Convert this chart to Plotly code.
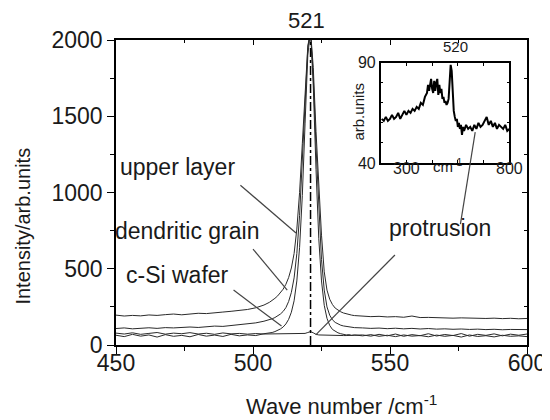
import plotly.graph_objects as go

# ---------------- data ----------------
wave = [450, 453, 456, 459, 462, 465, 468, 471, 474, 477, 480, 483, 486, 489, 492, 495, 498, 501, 504,
        506, 507, 508, 509, 510, 511, 512, 513, 514, 515, 516, 517, 518, 519, 520, 521,
        522, 523, 524, 525, 526, 527, 528, 529, 530, 531, 532, 533, 534, 535, 536, 537,
        540, 543, 546, 549, 552, 555, 558, 561, 564, 567, 570, 573, 576, 579, 582, 585, 588, 591, 594, 597, 600]

upper_layer = [196, 190, 194, 191, 197, 194, 199, 203, 198, 205, 208, 206, 213, 216, 221, 226, 233, 244, 262,
               280, 292, 306, 322, 342, 366, 398, 442, 505, 600, 760, 1000, 1320, 1680, 1960, 2060,
               1820, 1400, 1050, 720, 480, 360, 300, 265, 242, 228, 218, 210, 204, 199, 196, 193,
               190, 186, 188, 184, 186, 182, 190, 180, 181, 178, 179, 176, 178, 175, 177, 174, 176, 173, 175, 172, 174]

dendritic_grain = [108, 112, 106, 110, 113, 109, 114, 112, 116, 118, 115, 121, 124, 122, 128, 132, 137, 145, 156,
                   165, 172, 180, 190, 203, 220, 245, 285, 345, 440, 600, 850, 1200, 1620, 1950, 2060,
                   1760, 1300, 880, 560, 360, 250, 195, 165, 148, 137, 130, 125, 121, 118, 116, 114,
                   112, 109, 111, 107, 110, 106, 109, 105, 108, 104, 106, 103, 105, 102, 104, 101, 103, 100, 102, 99, 101]

c_si_wafer = [64, 55, 70, 58, 66, 52, 68, 57, 63, 54, 69, 58, 65, 56, 70, 60, 66, 62, 74,
              78, 82, 88, 95, 105, 118, 138, 168, 215, 290, 420, 640, 980, 1450, 1900, 2060,
              1700, 1150, 700, 420, 260, 175, 128, 102, 88, 80, 74, 70, 66, 68, 63, 66,
              60, 68, 57, 64, 55, 66, 58, 62, 54, 65, 57, 63, 52, 66, 56, 61, 53, 64, 57, 60, 55]

protrusion = [78, 72, 80, 70, 76, 82, 71, 78, 74, 81, 72, 77, 70, 79, 73, 76, 71, 75, 72,
              72, 72, 72, 72, 72, 72, 72, 72, 73, 73, 73, 73, 74, 76, 82, 88,
              80, 70, 66, 65, 64, 64, 63, 63, 63, 63, 62, 62, 62, 62, 62, 62,
              66, 58, 70, 60, 72, 57, 68, 61, 74, 59, 69, 62, 75, 58, 70, 63, 73, 60, 71, 64, 72]

peak_position = [521, 521]
peak_marker = [0, 2000]

inset_wave = [180, 190, 200, 210, 220, 230, 240, 250, 260, 270, 280, 290, 300, 310, 320, 330, 340, 350, 360,
              370, 380, 390, 400, 405, 410, 415, 420, 425, 430, 435, 440, 445, 450, 455, 460, 465, 470, 475,
              480, 485, 490, 495, 500, 505, 510, 515, 520, 525, 530, 535, 540, 545, 550, 555, 560, 565, 570,
              575, 580, 590, 600, 610, 620, 630, 640, 650, 660, 670, 680, 690, 700, 710, 720, 730, 740, 750,
              760, 770, 780, 790, 800]
inset_intensity = [62, 61, 63, 61, 62, 64, 62, 63, 65, 62, 64, 66, 64, 66, 65, 67, 66, 68, 67,
                   70, 69, 73, 75, 79, 76, 80, 82, 77, 75, 81, 76, 80, 82, 74, 79, 75, 77, 72,
                   73, 70, 71, 69, 70, 72, 80, 89, 86, 75, 66, 63, 61, 62, 58, 60, 57, 59, 54,
                   58, 56, 59, 57, 58, 56, 59, 57, 60, 58, 59, 61, 63, 59, 61, 58, 60, 57, 59,
                   58, 57, 59, 56, 57]

x_ticks = [450, 500, 550, 600]
x_minor = [475, 525, 575]
y_ticks = [0, 500, 1000, 1500, 2000]
y_minor = [250, 750, 1250, 1750]
inset_x_ticks = [175, 300, 425, 550, 675, 800]
inset_x_labels = ["", "300", "", "", "", "800"]
inset_y_ticks = [40, 50, 60, 70, 80, 90]
inset_y_labels = ["40", "", "", "", "", "90"]

labels = ["upper layer", "dendritic grain", "c-Si wafer", "protrusion"]
label_pos = [(472.5, 1165), (476.0, 745), (472.3, 460), (568.4, 765)]
leaders = [((495.4, 1048), (515.7, 734)),
           ((500.0, 629), (512.5, 360)),
           ((492.9, 360), (510.4, 125)),
           ((551.8, 590), (522.9, 66)),
           ((581.1, 1396), (575.7, 793))]

FONT = "Liberation Sans, Arial, sans-serif"
INK = "#1a1a1a"
LINE = "#2a2a2a"

fig = go.Figure()
for series in [upper_layer, dendritic_grain, c_si_wafer, protrusion]:
    fig.add_trace(go.Scatter(x=wave, y=series, mode="lines",
                             line=dict(color=LINE, width=1), showlegend=False, hoverinfo="skip"))
fig.add_trace(go.Scatter(x=peak_position, y=peak_marker, mode="lines",
                         line=dict(color="black", width=1.5, dash="dashdot"), showlegend=False))
fig.add_trace(go.Scatter(x=inset_wave, y=inset_intensity, mode="lines", xaxis="x2", yaxis="y2",
                         line=dict(color="black", width=2), showlegend=False))
# helper traces for mirrored (inside) axes
fig.add_trace(go.Scatter(x=[None], y=[None], xaxis="x3", yaxis="y", showlegend=False))
fig.add_trace(go.Scatter(x=[None], y=[None], xaxis="x", yaxis="y3", showlegend=False))

tickfont = dict(family=FONT, size=23, color=INK)
common = dict(showgrid=False, zeroline=False, showline=True, linecolor="black", linewidth=1.5,
              tickcolor="black", tickwidth=1.2)

fig.update_layout(
    width=550, height=420,
    margin=dict(l=108, r=23, t=32, b=83),
    paper_bgcolor="white", plot_bgcolor="white",
    xaxis=dict(range=[450, 600], tickvals=x_ticks, ticks="outside", ticklen=7,
               ticklabelstandoff=-10,
               minor=dict(tickvals=x_minor, ticks="outside", ticklen=4, tickcolor="black"),
               tickfont=tickfont, **common),
    yaxis=dict(range=[0, 2000], tickvals=y_ticks, ticks="outside", ticklen=7,
               minor=dict(tickvals=y_minor, ticks="outside", ticklen=4, tickcolor="black"),
               tickfont=tickfont, **common),
    xaxis3=dict(range=[450, 600], overlaying="x", side="top", anchor="y", tickvals=x_ticks,
                ticks="inside", ticklen=5, showticklabels=False,
                minor=dict(tickvals=x_minor, ticks="inside", ticklen=3, tickcolor="black"), **common),
    yaxis3=dict(range=[0, 2000], overlaying="y", side="right", anchor="x", tickvals=y_ticks,
                ticks="inside", ticklen=5, showticklabels=False,
                minor=dict(tickvals=y_minor, ticks="inside", ticklen=3, tickcolor="black"), **common),
    xaxis2=dict(domain=[0.644, 0.957], anchor="y2", range=[175, 800], tickvals=inset_x_ticks,
                ticktext=inset_x_labels, ticks="inside", ticklen=3, mirror="ticks",
                ticklabelstandoff=-10,
                tickfont=dict(family=FONT, size=16, color=INK), **common),
    yaxis2=dict(domain=[0.597, 0.925], anchor="x2", range=[40, 90], tickvals=inset_y_ticks,
                ticktext=inset_y_labels, ticks="inside", ticklen=3, mirror="ticks",
                tickfont=dict(family=FONT, size=16, color=INK), **common),
)

def label(x, y, text, size, xref="x", yref="y", angle=0):
    return dict(x=x, y=y, xref=xref, yref=yref, text=text, showarrow=False, textangle=angle,
                xanchor="center", yanchor="middle", font=dict(family=FONT, size=size, color=INK))

ann = [label(x, y, t, 23) for t, (x, y) in zip(labels, label_pos)]
ann.append(label(519.5, 1.065, "521", 22, yref="paper"))
ann.append(label(0.549, -0.196, "Wave number /cm<sup>-1</sup>", 22, xref="paper", yref="paper"))
ann.append(label(-0.225, 0.39, "Intensity/arb.units", 20, xref="paper", yref="paper", angle=-90))
ann.append(label(537, 0.98, "520", 15, xref="x2", yref="paper"))
ann.append(label(499, 0.59, "cm<sup>-1</sup>", 15, xref="x2", yref="paper"))
ann.append(label(0.59, 0.767, "arb.units", 15, xref="paper", yref="paper", angle=-90))
fig.update_layout(annotations=ann)

shapes = []
for (x0, y0), (x1, y1) in leaders:
    shapes.append(dict(type="line", xref="x", yref="y", x0=x0, y0=y0, x1=x1, y1=y1,
                       line=dict(color="#444", width=1.2)))
fig.update_layout(shapes=shapes)

fig.write_html("out.html")
